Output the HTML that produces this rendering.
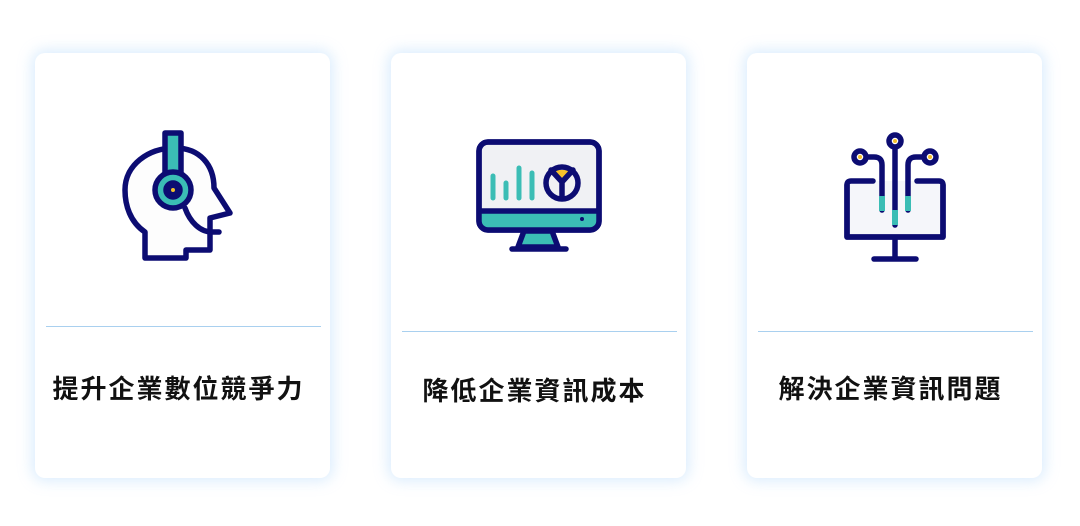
<!DOCTYPE html>
<html><head><meta charset="utf-8"><style>
body{margin:0;width:1080px;height:526px;background:#fff;position:relative;overflow:hidden;font-family:"Liberation Sans","Noto Sans CJK TC",sans-serif}
.card{position:absolute;top:53px;width:295px;height:425px;background:#fff;border-radius:10px;box-shadow:0 0 14px 3px rgba(150,200,250,0.35)}
.line{position:absolute;left:11px;right:9px;height:1px;background:#a9d0ef}
.t{position:absolute;left:-8px;right:0;top:320px;text-align:center;font-size:26px;font-weight:bold;color:#111;letter-spacing:2px;line-height:34px}
svg{position:absolute;left:0;top:0}
</style></head><body>
<div class="card" style="left:35px"><div class="line" style="top:273px"></div><div class="t" style="top:319px">提升企業數位競爭力</div></div>
<div class="card" style="left:391px"><div class="line" style="top:278px"></div><div class="t" style="top:321px">降低企業資訊成本</div></div>
<div class="card" style="left:747px"><div class="line" style="top:278px"></div><div class="t" style="top:319px">解決企業資訊問題</div></div>
<svg width="1080" height="526" fill="none" stroke="#0c0c72" stroke-width="5.5" stroke-linejoin="round" stroke-linecap="round">
<path d="M145,258 L145,232 C130,222 125,205 125,190 C125,165 148,148 175,148 C200,148 214,165 214,188 L230,213 L210,218 L210,250 L186,250 L186,258 Z" fill="#fdfdfd"/>
<rect x="165" y="133" width="16" height="48" fill="#3bbdb5"/>
<circle cx="173" cy="190" r="18" fill="#3bbdb5"/>
<circle cx="173" cy="190" r="7" fill="#0c0c72"/>
<circle cx="173" cy="190" r="2" fill="#f5c02b" stroke="none"/>
<path d="M185,208 C190,222 200,232 212,232 L219,232"/>
<rect x="479" y="142" width="120" height="88" rx="9" fill="#f0f1f4"/>
<path d="M481,211 L597,211 L597,222 Q597,228 590,228 L488,228 Q481,228 481,222 Z" fill="#3bbdb5" stroke="none"/>
<rect x="479" y="142" width="120" height="88" rx="9"/>
<line x1="480" y1="211" x2="598" y2="211"/>
<circle cx="582" cy="219" r="2" fill="#0c0c72" stroke="none"/>
<path d="M524,231 L552,231 L558,247 L518,247 Z" fill="#3bbdb5"/>
<line x1="512" y1="249" x2="566" y2="249"/>
<g stroke="#3bbdb5" stroke-width="5"><line x1="493" y1="176" x2="493" y2="198"/><line x1="506" y1="183" x2="506" y2="198"/><line x1="519" y1="168" x2="519" y2="198"/><line x1="532" y1="173" x2="532" y2="198"/></g>
<path d="M551,170 L562,182 L573,170 Z" fill="#f5c02b" stroke="none"/>
<circle cx="562" cy="183" r="16"/>
<path d="M551,170 L562,182 L573,170 M562,182 L562,198"/>
<path d="M873,181 L851,181 Q847,181 847,185 L847,237 L943,237 L943,185 Q943,181 939,181 L917,181" fill="#f5f6fa"/>
<path d="M847,185 L847,237 L943,237 L943,185"/>
<line x1="895" y1="239" x2="895" y2="258"/><line x1="874" y1="259" x2="916" y2="259"/>
<path d="M882,210 L882,165 Q882,157 874,157 L866,157"/>
<path d="M908,210 L908,165 Q908,157 916,157 L924,157"/>
<line x1="895" y1="147" x2="895" y2="225"/>
<g stroke="#3bbdb5" stroke-width="6" stroke-linecap="butt"><line x1="882" y1="196" x2="882" y2="211"/><line x1="908" y1="196" x2="908" y2="211"/><line x1="895" y1="210" x2="895" y2="225"/></g>
<circle cx="895" cy="141" r="6" fill="#fff"/><circle cx="860" cy="157" r="6" fill="#fff"/><circle cx="930" cy="157" r="6" fill="#fff"/>
<g fill="#f5c02b" stroke="none"><circle cx="895" cy="141" r="2"/><circle cx="860" cy="157" r="2"/><circle cx="930" cy="157" r="2"/></g>
</svg>
</body></html>
